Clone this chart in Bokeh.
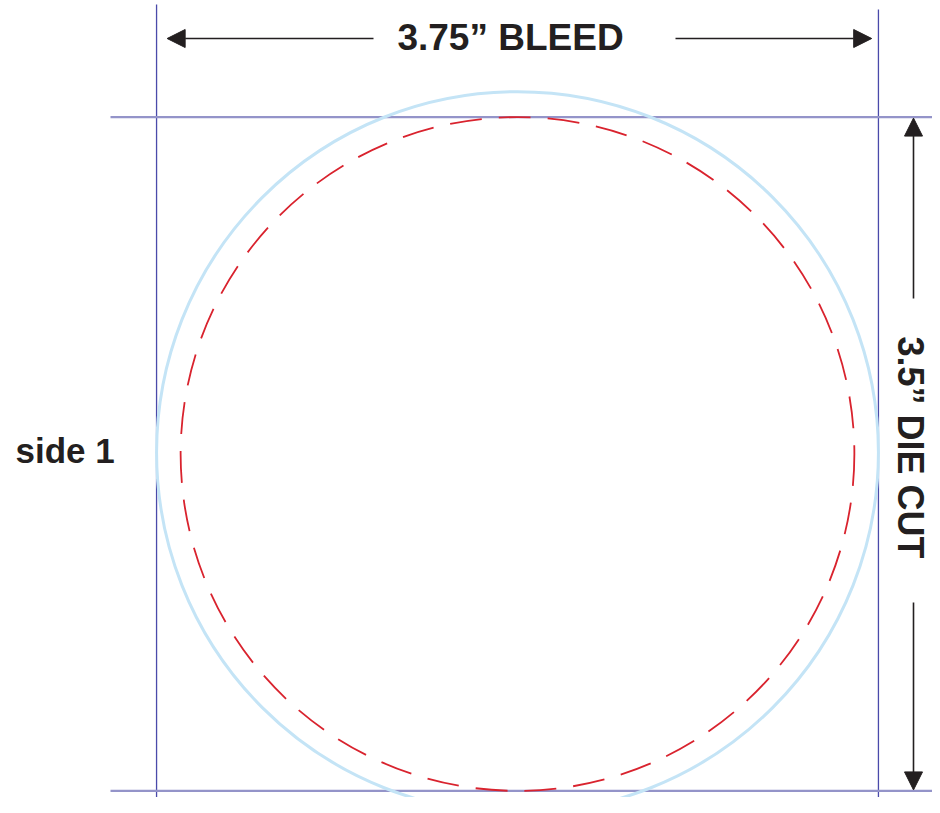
import math
from bokeh.plotting import figure
from bokeh.models import Range1d, Arrow, NormalHead
from bokeh.core.properties import value
from bokeh.embed import file_html
from bokeh.resources import INLINE

# ---- data (inches) ----
bleed_size = 3.75          # outer square / light-blue circle
die_cut_size = 3.5         # red dashed circle / horizontal guides
bleed_label = ["3.75\u201d BLEED"]
die_cut_label = ["3.5\u201d DIE CUT"]
side_label = ["side 1"]

# ---- layout ----
PX = 192.5                 # pixels per inch
W, H = 932, 797
cx_px, cy_px = 517, 453.5  # circle centre in frame pixels
x0 = -cx_px / PX
x1 = (W - cx_px) / PX
y1 = cy_px / PX
y0 = -(H - cy_px) / PX

p = figure(width=W, height=H, output_backend="svg", toolbar_location=None,
           x_range=Range1d(x0, x1), y_range=Range1d(y0, y1),
           min_border=0, outline_line_color=None)
p.axis.visible = False
p.grid.visible = False
p.background_fill_color = "white"
p.border_fill_color = "white"

hb = bleed_size / 2
hd = die_cut_size / 2

def py(sy):  # screen y (reference) -> data
    return (cy_px - sy) / PX

def px(sx):
    return (sx - cx_px) / PX

# bleed guides (vertical)
p.segment(x0=[-hb, hb], y0=[py(4), py(9)], x1=[-hb, hb], y1=[py(808), py(808)],
          line_color="#4a4aaa", line_width=1.3)
# die-cut guides (horizontal)
p.segment(x0=[px(110), px(110)], y0=[hd, -hd], x1=[px(945), px(945)], y1=[hd, -hd],
          line_color="#9494c9", line_width=2.2)

# circles
p.circle(x=[0], y=[py(452)], radius=hb, fill_color=None,
         line_color="#c4e4f6", line_width=3)
p.circle(x=[0], y=[0], radius=hd, fill_color=None,
         line_color="#d9232e", line_width=1.8, line_dash="32 17")

# arrows
ay = py(38)
head = dict(size=18, fill_color="#231f20", line_color="#231f20")
for xs, xe in [(px(373), -hb + 0.055), (px(675), hb - 0.035)]:
    p.add_layout(Arrow(x_start=xs, y_start=ay, x_end=xe, y_end=ay,
                       line_color="#231f20", line_width=1.6, end=NormalHead(**head)))
ax = px(913)
for ys, ye in [(py(298), hd - 0.005), (py(602), -hd + 0.005)]:
    p.add_layout(Arrow(x_start=ax, y_start=ys, x_end=ax, y_end=ye,
                       line_color="#231f20", line_width=1.6, end=NormalHead(**head)))

font = value("Liberation Sans")
p.text(x=[px(510)], y=[py(37)], text=bleed_label, text_font=font,
       text_font_style="bold", text_font_size="37px", text_color="#231f20",
       text_align="center", text_baseline="middle")
p.text(x=[px(910)], y=[py(447)], text=die_cut_label, text_font=font,
       text_font_style="bold", text_font_size="36px", text_color="#231f20",
       text_align="center", text_baseline="middle", angle=-math.pi / 2)
p.text(x=[px(15)], y=[py(450)], text=side_label, text_font=font,
       text_font_style="bold", text_font_size="35px", text_color="#231f20",
       text_align="left", text_baseline="middle")

open("out.html", "w").write(file_html(p, INLINE))
